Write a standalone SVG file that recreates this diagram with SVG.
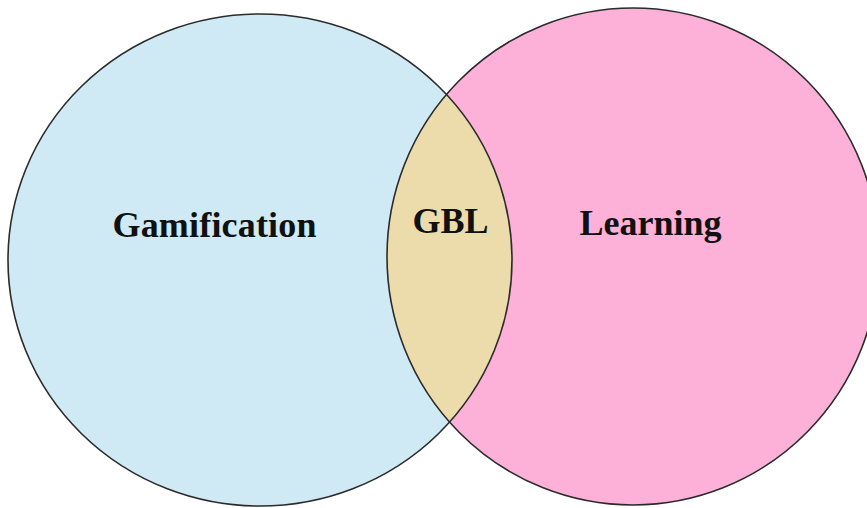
<svg xmlns="http://www.w3.org/2000/svg" width="867" height="508" viewBox="0 0 867 508">
  <style>
    .outline { fill: none; stroke: #2b2b2b; stroke-width: 1.6; }
    .label { font-family: "Liberation Serif", "Times New Roman", serif; font-weight: bold; font-size: 36px; fill: #111111; text-anchor: middle; }
  </style>
  <defs>
    <clipPath id="clip-left">
      <ellipse cx="260" cy="260" rx="252" ry="246"/>
    </clipPath>
  </defs>
  <rect width="867" height="508" fill="#ffffff"/>

  <g id="gamification">
    <ellipse cx="260" cy="260" rx="252" ry="246" fill="#cfeaf4"/>
  </g>
  <g id="learning">
    <ellipse cx="633" cy="256.5" rx="246" ry="248.5" fill="#feb1d8"/>
  </g>
  <g id="gbl">
    <ellipse cx="633" cy="256.5" rx="246" ry="248.5" fill="#ecdcac" clip-path="url(#clip-left)"/>
  </g>

  <g id="outlines">
    <ellipse class="outline" cx="260" cy="260" rx="252" ry="246"/>
    <ellipse class="outline" cx="633" cy="256.5" rx="246" ry="248.5"/>
  </g>

  <g id="labels">
    <text class="label" x="214.5" y="237" textLength="204" lengthAdjust="spacing">Gamification</text>
    <text class="label" x="450.5" y="233">GBL</text>
    <text class="label" x="650.5" y="235">Learning</text>
  </g>
</svg>
